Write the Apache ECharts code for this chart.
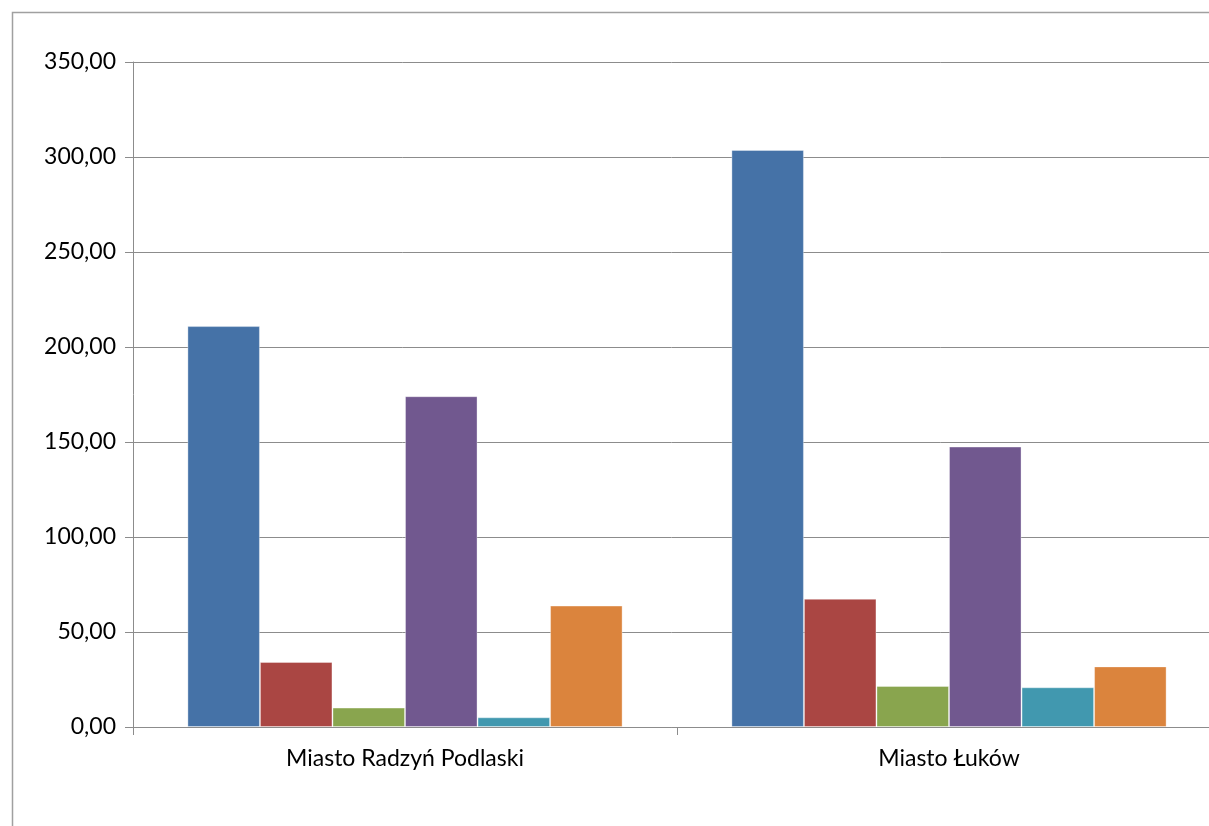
<!DOCTYPE html>
<html>
<head>
<meta charset="utf-8">
<script src="https://cdn.jsdelivr.net/npm/echarts@6/dist/echarts.min.js"></script>
<style>
html,body{margin:0;padding:0;background:#fff;overflow:hidden;}
#chart{width:1209px;height:826px;}
</style>
</head>
<body>
<div id="chart"></div>
<script>
const categories = ['Miasto Radzyń Podlaski', 'Miasto Łuków'];
const series1 = [211.0, 303.7];
const series2 = [34.2, 67.5];
const series3 = [10.2, 21.6];
const series4 = [174.1, 147.6];
const series5 = [5.1, 20.9];
const series6 = [63.9, 31.9];
const seriesValues = [series1, series2, series3, series4, series5, series6];
const seriesColors = ['#4572A7', '#AA4643', '#89A54E', '#71588F', '#4198AF', '#DB843D'];
const yTicks = [0, 50, 100, 150, 200, 250, 300, 350];

const chart = echarts.init(document.getElementById('chart'));
const font = 'Lato, "Open Sans", sans-serif';
chart.setOption({
  animation: false,
  backgroundColor: '#fff',
  graphic: [{
    type: 'rect',
    left: 10, top: 10,
    shape: {width: 1400, height: 1000},
    style: {fill: 'none', stroke: '#a0a0a0', lineWidth: 1.5},
    silent: true
  }],
  grid: {left: 133, width: 1088, top: 62, height: 665, containLabel: false, outerBoundsMode: 'none'},
  xAxis: {
    type: 'category',
    data: categories,
    axisLine: {lineStyle: {color: '#8c8c8c', width: 1}},
    axisTick: {show: true, length: 8, lineStyle: {color: '#8c8c8c'}},
    axisLabel: {color: '#000', fontSize: 23, fontFamily: font, margin: 20}
  },
  yAxis: {
    type: 'value',
    min: yTicks[0],
    max: yTicks[yTicks.length - 1],
    interval: 50,
    axisLine: {show: true, lineStyle: {color: '#8c8c8c', width: 1}},
    axisTick: {show: true, length: 8, lineStyle: {color: '#8c8c8c'}},
    splitLine: {show: true, lineStyle: {color: '#8c8c8c', width: 1}},
    axisLabel: {
      color: '#000', fontSize: 23, fontFamily: font, margin: 17,
      formatter: v => v.toFixed(2).replace('.', ',')
    }
  },
  series: seriesValues.map((vals, i) => ({
    type: 'bar',
    data: vals,
    barGap: '0%',
    barCategoryGap: '20%',
    itemStyle: {color: seriesColors[i], borderColor: 'rgba(255,255,255,0.35)', borderWidth: 1}
  }))
});
</script>
</body>
</html>
